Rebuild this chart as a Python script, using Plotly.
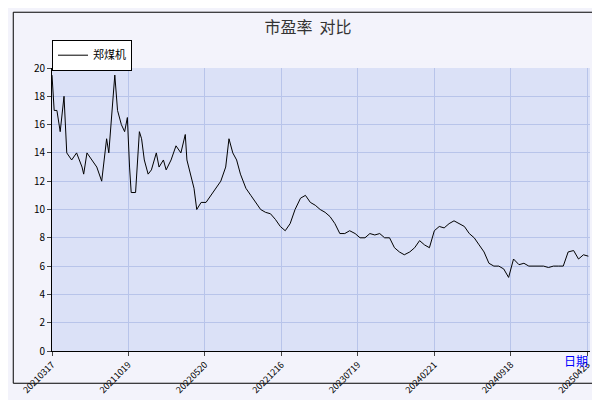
import plotly.graph_objects as go

# 市盈率 series: trading-day index and PE value
idx = [0, 4, 9, 15, 22, 27, 36, 45, 55, 58,
       64, 73, 82, 91, 95, 100, 104, 109, 115, 120,
       127, 133, 138, 142, 145, 153, 160, 164, 169, 176,
       182, 191, 196, 204, 209, 218, 227, 236, 244, 247,
       254, 260, 265, 273, 282, 291, 300, 309, 318, 324,
       331, 338, 345, 355, 364, 373, 382, 391, 400, 409,
       418, 427, 436, 445, 455, 464,
       473, 482, 491, 500, 509, 518, 527, 536, 545, 555,
       564, 573, 582, 591, 600, 609, 618, 627, 636, 645,
       655, 664, 673, 682, 691, 700, 709, 718, 727, 736,
       745, 755, 764, 773, 782, 791, 800, 809, 818, 827,
       836, 845, 855, 864, 873, 882, 891, 900, 909, 918,
       927, 936, 945, 955, 964, 973, 982]
pe = [19.5, 17, 17, 15.5, 18, 14, 13.5, 14, 13, 12.5,
      14, 13.5, 13, 12, 13.5, 15, 14, 16.5, 19.5, 17,
      16, 15.5, 16.5, 13, 11.2, 11.2, 15.5, 15, 13.5, 12.5,
      12.8, 14, 13, 13.5, 12.8, 13.5, 14.5, 14, 15.3, 13.5,
      12.5, 11.5, 10, 10.5, 10.5, 11, 11.5, 12, 13, 15,
      14, 13.5, 12.5, 11.5, 11, 10.5, 10, 9.8, 9.7, 9.3,
      8.8, 8.5, 9, 10, 10.8, 11,
      10.5, 10.3, 10, 9.8, 9.5, 9, 8.3, 8.3, 8.5, 8.3,
      8, 8, 8.3, 8.2, 8.3, 8, 8, 7.3, 7, 6.8,
      7, 7.3, 7.8, 7.5, 7.3, 8.5, 8.8, 8.7, 9, 9.2,
      9, 8.8, 8.3, 8, 7.5, 7, 6.2, 6, 6, 5.8,
      5.2, 6.5, 6.1, 6.2, 6, 6, 6, 6, 5.9, 6,
      6, 6, 7, 7.1, 6.5, 6.8, 6.7]
tick_pos = [0, 140, 280, 420, 560, 700, 840, 980]
tick_labels = ['20210317', '20211019', '20220520', '20221216', '20230719', '20240221', '20240918',
               '20250423']

fig = go.Figure(go.Scatter(x=idx, y=pe, mode='lines', name='郑煤机',
                           line=dict(color='black', width=1)))

fig.update_layout(
    width=600, height=400,
    paper_bgcolor='#f3f3fb', plot_bgcolor='#dbe1f7',
    font=dict(family='Noto Sans CJK SC, DejaVu Sans', size=10, color='black'),
    title=dict(text='市盈率  对比', x=0.5, y=0.965, xanchor='center', font=dict(size=16, color='#333333')),
    margin=dict(l=40, r=18, t=60, b=42),
    showlegend=True,
    legend=dict(x=0, y=1.10, xanchor='left', yanchor='top', bgcolor='white',
                bordercolor='black', borderwidth=1, font=dict(size=11), itemwidth=30),
    xaxis=dict(tickvals=tick_pos, ticktext=tick_labels, tickangle=-45, tickfont=dict(size=9),
               range=[0, 985], showgrid=True, gridcolor='#b8c4ea',
               ticks='outside', ticklen=4, showline=True, linecolor='black', zeroline=False),
    yaxis=dict(range=[0, 20], dtick=2, showgrid=True, gridcolor='#b8c4ea', ticks='outside',
               ticklen=4, showline=True, linecolor='black', zeroline=False, tickfont=dict(size=10)),
    shapes=[dict(type='rect', xref='paper', yref='paper', x0=-0.072, x1=1.018, y0=-0.114, y1=1.197,
                 line=dict(color='black', width=1))],
    annotations=[dict(text='日期', xref='paper', yref='paper', x=1.0, y=-0.07, xanchor='right',
                      showarrow=False, font=dict(color='blue', size=12))],
)

fig.write_html('out.html')
